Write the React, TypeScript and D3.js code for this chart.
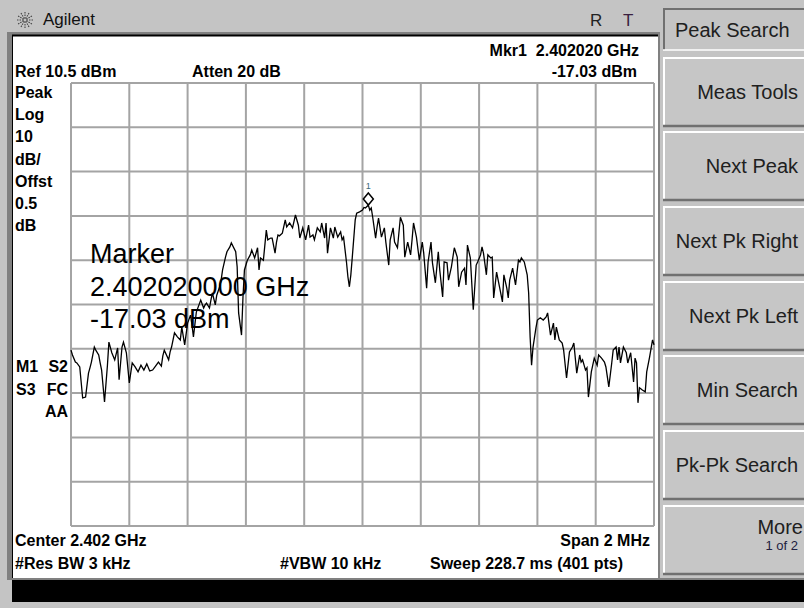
import React from "react";
import * as d3 from "d3";

// Sweep point index (0..400 of 401 pts) and trace level in dBm
const traceIdx = [
  0, 1, 3, 4, 6, 8, 10, 12, 13, 14, 16, 17, 19, 20, 21, 23, 25, 26, 28, 30, 32, 33, 35, 36, 38, 40,
  42, 44, 46, 48, 50, 52, 54, 56, 58, 60, 62, 63, 64, 67, 68, 69, 71, 73, 75, 76, 78, 80, 82, 83,
  84, 86, 89, 91, 92, 93, 95, 96, 97, 99, 100, 102, 103, 104, 106, 107, 109, 110, 113, 114, 115,
  117, 118, 119, 121, 123, 124, 126, 128, 129, 130, 132, 134, 135, 137, 138, 140, 141, 142, 143,
  145, 147, 148, 150, 152, 154, 156, 157, 159, 161, 163, 164, 166, 167, 169, 171, 172, 174, 175,
  176, 178, 180, 181, 183, 185, 186, 187, 189, 190, 191, 192, 193, 195, 196, 198, 200, 201, 202,
  204, 205, 206, 207, 209, 210, 211, 213, 215, 216, 218, 219, 221, 222, 224, 226, 228, 229, 231,
  233, 234, 235, 237, 239, 241, 242, 244, 245, 247, 248, 250, 252, 253, 255, 256, 258, 259, 261,
  263, 265, 266, 268, 270, 271, 272, 274, 276, 278, 279, 281, 282, 283, 285, 286, 288, 289, 290,
  292, 294, 296, 297, 299, 300, 301, 303, 305, 307, 308, 309, 311, 313, 314, 315, 316, 317, 319,
  320, 322, 324, 326, 327, 329, 331, 332, 333, 335, 337, 338, 340, 342, 344, 345, 347, 349, 350,
  351, 353, 354, 355, 357, 359, 361, 362, 364, 366, 367, 369, 371, 372, 374, 375, 376, 377, 379,
  381, 382, 384, 386, 387, 388, 389, 390, 392, 394, 395, 397, 399, 400,
];
const traceDbm = [
  -49.8, -50.9, -52.5, -52.7, -53.6, -60.6, -60.4, -55.0, -53.8, -52.5, -49.1, -49.8, -50.9, -52.7,
  -54.3, -61.5, -53.2, -48.0, -50.4, -52.0, -49.3, -56.5, -49.1, -48.0, -50.4, -57.2,
  -52.7, -53.6, -54.7, -53.2, -54.3, -52.9, -54.5, -54.3, -53.4, -52.5, -53.4, -51.1, -49.8, -52.0,
  -50.2, -49.1, -45.9, -46.8, -47.5, -44.6, -48.6, -43.7, -41.9, -44.1,
  -46.8, -41.2, -38.5, -40.3, -39.6, -39.2, -40.3, -38.5, -36.9, -39.6, -37.4, -35.5, -34.0, -31.7,
  -28.8, -27.6, -26.5, -25.6, -27.6, -31.0, -41.4,
  -46.4, -37.8, -31.7, -29.5, -28.3, -27.2, -29.0, -26.7, -31.7, -29.0, -29.5, -22.7, -24.9, -24.5,
  -24.5, -27.9, -25.4, -23.8, -24.0,
  -23.4, -20.4, -22.0, -21.1, -22.2, -19.3, -21.6, -24.5, -22.2, -24.9, -21.6, -24.3, -23.8, -24.9,
  -22.2, -23.1, -21.1, -24.5, -21.1,
  -27.9, -22.2, -24.5, -22.0, -24.3, -23.1, -24.9, -24.3, -29.9, -33.3, -35.5, -32.8, -28.8, -20.4,
  -18.9, -18.6, -18.2, -17.6, -17.7,
  -17.03, -18.2, -17.7, -19.8, -24.5, -22.0, -20.0, -24.3, -22.2, -25.4, -30.6, -24.9, -22.2, -25.4,
  -26.7, -19.8, -21.6, -28.8, -25.4,
  -28.3, -24.9, -21.1, -24.3, -29.5, -25.4, -27.9, -35.8, -29.9, -25.4, -30.1, -34.6, -27.6, -31.7,
  -37.8, -29.9, -30.1, -34.0, -31.0,
  -26.7, -28.8, -35.5, -32.2, -31.3, -35.1, -26.1, -29.0, -40.7, -30.6, -29.9, -28.3, -26.5, -27.9,
  -32.8, -28.3, -29.0, -28.8, -38.0,
  -32.2, -35.5, -38.9, -32.8, -35.8, -38.0, -34.0, -31.3, -35.1, -29.5, -29.9, -29.0, -29.9, -32.8,
  -36.9, -46.8, -53.2, -49.1, -44.8,
  -43.0, -42.5, -43.0, -42.3, -41.4, -46.4, -43.7, -47.5, -44.6, -47.5, -48.2, -49.8, -56.1, -50.2,
  -49.1, -48.2, -55.0, -50.9, -52.5,
  -52.0, -54.3, -53.8, -60.4, -54.7, -51.6, -53.2, -50.9, -51.6, -52.5, -53.6, -58.1, -52.7, -49.8,
  -49.1, -52.0, -49.1, -52.7, -49.1,
  -50.4, -52.7, -50.4, -57.0, -51.6, -52.7, -61.7, -58.3, -58.8, -59.2, -54.7, -51.3, -47.5, -48.6,
];

const refLevel = 10.5;
const dbPerDiv = 10;
const numDivs = 10;
const sweepPts = 401;
const markerIdx = 204;
const markerDbm = -17.03;

const leftLabels = ["Peak", "Log", "10", "dB/", "Offst", "0.5", "dB"];
const menuTitle = "Peak Search";
const menuKeys = ["Meas Tools", "Next Peak", "Next Pk Right", "Next Pk Left", "Min Search", "Pk-Pk Search", "More"];

const FONT = "'Liberation Sans', Arial, sans-serif";

export default function App() {
  const W = 804;
  const H = 608;
  const x = d3.scaleLinear().domain([0, sweepPts - 1]).range([71, 654]);
  const y = d3.scaleLinear().domain([refLevel - dbPerDiv * numDivs, refLevel]).range([526, 83]);
  const line = d3
    .line<number>()
    .x((_, i) => x(traceIdx[i]))
    .y((d) => y(d));

  const xTicks = d3.range(0, numDivs + 1).map((i) => (i * (sweepPts - 1)) / numDivs);
  const yTicks = d3.range(0, numDivs + 1).map((i) => refLevel - i * dbPerDiv);

  const mx = x(markerIdx);
  const my = y(markerDbm) - 6;

  const btnTops = [57, 131, 206, 281, 355, 430, 505];

  const bold = { fontFamily: FONT, fontWeight: 700, fontSize: 16, fill: "#000" } as const;
  const menuFont = { fontFamily: FONT, fontSize: 20, fill: "#202020" } as const;

  return (
    <svg
      width={W}
      height={H}
      style={{ position: "absolute", left: 0, top: 0, display: "block" }}
      xmlns="http://www.w3.org/2000/svg"
    >
      {/* background */}
      <rect x={0} y={0} width={W} height={H} fill="#c4c4c4" />
      {/* title bar */}
      <rect x={0} y={0} width={660} height={32} fill="#c4c4c4" />
      <g transform="translate(25,20)" stroke="#444" strokeWidth={1.1}>
        {d3.range(0, 12).map((i) => {
          const a = (i * Math.PI) / 6;
          return (
            <line
              key={i}
              x1={Math.cos(a) * 1.5}
              y1={Math.sin(a) * 1.5}
              x2={Math.cos(a) * 8}
              y2={Math.sin(a) * 8}
              strokeDasharray="1.5 1"
            />
          );
        })}
      </g>
      <text x={43} y={25} style={{ fontFamily: FONT, fontSize: 17, fill: "#111" }}>
        Agilent
      </text>
      <text x={590} y={26} style={{ fontFamily: FONT, fontSize: 17, fill: "#222" }}>
        R
      </text>
      <text x={623} y={26} style={{ fontFamily: FONT, fontSize: 17, fill: "#3a2040" }}>
        T
      </text>

      {/* screen panel */}
      <rect x={7} y={32} width={653} height={548} fill="#808080" />
      <rect x={12} y={35} width={646} height={543} fill="#ffffff" />
      <line x1={12} y1={35.5} x2={658} y2={35.5} stroke="#000" strokeWidth={2} />
      <line x1={12.5} y1={35} x2={12.5} y2={578} stroke="#000" strokeWidth={1} />

      {/* header text */}
      <text x={15} y={77} style={bold}>Ref 10.5 dBm</text>
      <text x={192} y={77} style={bold}>Atten 20 dB</text>
      <text x={639} y={56} textAnchor="end" style={bold} xmlSpace="preserve">
        Mkr1  2.402020 GHz
      </text>
      <text x={637} y={77} textAnchor="end" style={bold}>-17.03 dBm</text>

      {leftLabels.map((t, i) => (
        <text key={t + i} x={15} y={98 + i * 22.2} style={bold}>
          {t}
        </text>
      ))}
      <text x={16} y={372} style={bold}>M1</text>
      <text x={68} y={372} textAnchor="end" style={bold}>S2</text>
      <text x={16} y={395} style={bold}>S3</text>
      <text x={68} y={395} textAnchor="end" style={bold}>FC</text>
      <text x={68} y={417} textAnchor="end" style={bold}>AA</text>

      {/* graticule */}
      <g stroke="#a4a4a4" strokeWidth={2} fill="none">
        {xTicks.map((t) => (
          <line key={"x" + t} x1={x(t)} x2={x(t)} y1={y.range()[1]} y2={y.range()[0]} />
        ))}
        {yTicks.map((t) => (
          <line key={"y" + t} y1={y(t)} y2={y(t)} x1={x.range()[0]} x2={x.range()[1]} />
        ))}
      </g>

      {/* marker readout */}
      <g style={{ fontFamily: FONT, fontSize: 27, fill: "#000" }}>
        <text x={90} y={263}>Marker</text>
        <text x={90} y={295.5}>2.402020000 GHz</text>
        <text x={90} y={328}>-17.03 dBm</text>
      </g>

      {/* trace */}
      <path d={line(traceDbm) || ""} fill="none" stroke="#000" strokeWidth={1.3} strokeLinejoin="miter" />

      {/* marker */}
      <path
        d={`M${mx},${my - 6} L${mx + 5},${my} L${mx},${my + 6} L${mx - 5},${my} Z`}
        fill="#fff"
        stroke="#000"
        strokeWidth={1.5}
      />
      <text x={mx} y={my - 10} textAnchor="middle" style={{ fontFamily: FONT, fontSize: 9, fill: "#3a6a7a" }}>
        1
      </text>

      {/* footer */}
      <text x={15} y={546} style={bold}>Center 2.402 GHz</text>
      <text x={650} y={546} textAnchor="end" style={bold}>Span 2 MHz</text>
      <text x={15} y={569} style={bold}>#Res BW 3 kHz</text>
      <text x={280} y={569} style={bold}>#VBW 10 kHz</text>
      <text x={430} y={569} style={bold}>Sweep 228.7 ms (401 pts)</text>

      {/* bottom black bar */}
      <rect x={12} y={578} width={W - 12} height={2} fill="#808080" />
      <rect x={12} y={580} width={W - 12} height={22} fill="#000" />

      {/* menu */}
      <rect x={663} y={8} width={141} height={42} fill="#c4c4c4" />
      <line x1={663} y1={9} x2={804} y2={9} stroke="#707070" strokeWidth={2} />
      <line x1={664} y1={8} x2={664} y2={50} stroke="#707070" strokeWidth={2} />
      <line x1={663} y1={50} x2={804} y2={50} stroke="#ffffff" strokeWidth={1.5} />
      <text x={675} y={37} style={menuFont}>
        {menuTitle}
      </text>

      {menuKeys.map((k, i) => {
        const top = btnTops[i];
        const h = 70;
        return (
          <g key={k}>
            <rect x={663} y={top} width={141} height={h} fill="#c6c6c6" />
            <line x1={663} y1={top + 1} x2={804} y2={top + 1} stroke="#fff" strokeWidth={2} />
            <line x1={664} y1={top} x2={664} y2={top + h} stroke="#fff" strokeWidth={2} />
            <line x1={663} y1={top + h - 1} x2={804} y2={top + h - 1} stroke="#707070" strokeWidth={2.5} />
            {k === "More" ? (
              <>
                <text x={803} y={top + 29} textAnchor="end" style={menuFont}>
                  More
                </text>
                <text x={798} y={top + 45} textAnchor="end" style={{ fontFamily: FONT, fontSize: 13, fill: "#202040" }}>
                  1 of 2
                </text>
              </>
            ) : (
              <text x={798} y={top + 42} textAnchor="end" style={menuFont}>
                {k}
              </text>
            )}
          </g>
        );
      })}
    </svg>
  );
}
